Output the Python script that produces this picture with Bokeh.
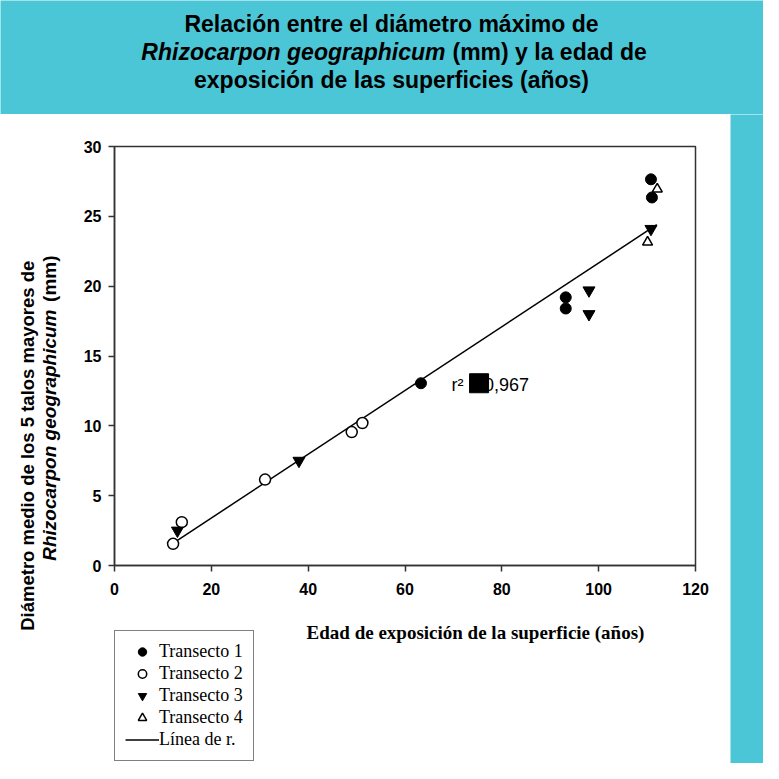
import math
from bokeh.plotting import figure
from bokeh.models import Range1d, Legend, LegendItem, FixedTicker
from bokeh.layouts import column, row
from bokeh.embed import file_html
from bokeh.resources import INLINE
from bokeh.core.properties import value

CYAN = "#4BC6D6"
INK = "#000000"
AXIS = "#333333"
NAN = float("nan")

# ---------------- data ----------------
t1_x = [63.3, 93.2, 93.2, 110.8, 111.0]
t1_y = [13.05, 19.2, 18.4, 27.65, 26.35]

t2_x = [12.1, 13.9, 31.1, 49.0, 51.2]
t2_y = [1.55, 3.1, 6.15, 9.55, 10.2]

t3_x = [13.0, 38.1, 98.0, 98.0, 110.8]
t3_y = [2.5, 7.5, 19.7, 18.0, 24.1]

t4_x = [110.1, 112.1]
t4_y = [23.15, 26.95]

fit_x = [13.0, 112.0]
fit_y = [1.8, 24.4]

r2_x = [75.3]
r2_y = [13.05]
r2_text = ["r\u00b2 = 0,967"]

x_ticks = [0, 20, 40, 60, 80, 100, 120]
y_ticks = [0, 5, 10, 15, 20, 25, 30]

title_line1 = "Relación entre el diámetro máximo de"
title_line2a = "Rhizocarpon geographicum"
title_line2b = "(mm) y la edad de"
title_line3 = "exposición de las superficies (años)"

x_label = "Edad de exposición de la superficie (años)"
y_label1 = "Diámetro  medio de los 5 talos mayores de"
y_label2a = "Rhizocarpon geographicum"
y_label2b = "(mm)"

legend_labels = ["Transecto 1", "Transecto 2", "Transecto 3", "Transecto 4", "Línea de r."]


def no_align(fig):
    try:
        fig.frame_align = False
    except Exception:
        pass


def blank_fig(w, h, xr, yr, bg):
    f = figure(width=w, height=h, x_range=xr, y_range=yr, output_backend="svg",
               toolbar_location=None, tools="", min_border=0,
               x_axis_location=None, y_axis_location=None)
    f.outline_line_color = None
    f.background_fill_color = bg
    f.border_fill_color = bg
    f.grid.visible = False
    f.title.visible = False
    no_align(f)
    return f


# ---------------- title panel (763 x 114) ----------------
tf = blank_fig(763, 114, Range1d(0, 763), Range1d(114, 0), CYAN)
tkw = dict(text_font=value("Liberation Sans"), text_font_size="23px",
           text_color=INK, text_baseline="alphabetic")
tf.text(x=[391], y=[23], text=[title_line1], text_align="center", text_font_style="bold", **tkw)
tf.text(x=[445], y=[51], text=[title_line2a], text_align="right", text_font_style="bold italic", **tkw)
tf.text(x=[452], y=[51], text=[title_line2b], text_align="left", text_font_style="bold", **tkw)
tf.text(x=[391], y=[79], text=[title_line3], text_align="center", text_font_style="bold", **tkw)

# ---------------- y-axis title strip (67 x 649) ----------------
yl = blank_fig(67, 649, Range1d(0, 67), Range1d(0, 649), "white")
ykw = dict(angle=math.pi / 2, text_align="right", text_baseline="middle",
           text_font=value("Liberation Sans"), text_color=INK)
yl.text(x=[27], y=[508], text=[y_label1], text_font_style="bold", text_font_size="18.5px", **ykw)
yl.text(x=[49], y=[508], text=[y_label2b], text_font_style="bold", text_font_size="19px", **ykw)
yl.text(x=[49], y=[454], text=[y_label2a], text_font_style="bold italic", text_font_size="19px", **ykw)

# ---------------- main plot (663 x 493) ----------------
p = figure(width=663, height=493, x_range=Range1d(0, 120), y_range=Range1d(0, 30),
           output_backend="svg", toolbar_location=None, tools="",
           min_border_left=47, min_border_right=35, min_border_top=32, min_border_bottom=42)
no_align(p)
p.title.visible = False
p.background_fill_color = "white"
p.border_fill_color = "white"
p.grid.visible = False
p.outline_line_color = AXIS
p.outline_line_width = 1.5

for ax in (p.xaxis, p.yaxis):
    ax.axis_line_color = AXIS
    ax.axis_line_width = 1.5
    ax.major_tick_line_color = AXIS
    ax.major_tick_line_width = 1.5
    ax.major_tick_in = 0
    ax.major_tick_out = 6
    ax.minor_tick_line_color = None
    ax.major_label_text_font = "Liberation Sans"
    ax.major_label_text_font_style = "bold"
    ax.major_label_text_font_size = "16px"
    ax.major_label_text_color = INK
p.xaxis.ticker = FixedTicker(ticks=x_ticks)
p.yaxis.ticker = FixedTicker(ticks=y_ticks)
p.xaxis.major_label_standoff = 11
p.yaxis.major_label_standoff = 7

mk1 = dict(marker="circle", size=11, fill_color=INK, line_color=INK)
mk2 = dict(marker="circle", size=11, fill_color="white", line_color=INK, line_width=1.5)
mk3 = dict(marker="inverted_triangle", size=12, fill_color=INK, line_color=INK)
mk4 = dict(marker="triangle", size=10, fill_color="white", line_color=INK, line_width=1.5)
lnk = dict(line_color=INK, line_width=1.5)

p.line(fit_x, fit_y, **lnk)
p.scatter(t1_x, t1_y, **mk1)
p.scatter(t2_x, t2_y, **mk2)
p.scatter(t3_x, t3_y, **mk3)
p.scatter(t4_x, t4_y, **mk4)

p.text(x=[69.6], y=[12.9], text=r2_text, text_font=value("Liberation Sans"), text_font_size="18px",
       text_color=INK, text_align="left", text_baseline="middle")
p.scatter(r2_x, r2_y, marker="square", size=19, fill_color=INK, line_color=INK)

# ---------------- bottom strip: x title + legend (663 x 156) ----------------
bot = blank_fig(663, 156, Range1d(0, 663), Range1d(0, 156), "white")
bot.text(x=[408], y=[131], text=[x_label], text_align="center", text_baseline="middle",
         text_font=value("Liberation Serif"), text_font_style="bold", text_font_size="19px",
         text_color=INK)
# legend proxies (NaN positions: nothing is drawn in the strip itself)
e1 = bot.scatter(x=[NAN], y=[NAN], **mk1)
e2 = bot.scatter(x=[NAN], y=[NAN], **mk2)
e3 = bot.scatter(x=[NAN], y=[NAN], **mk3)
e4 = bot.scatter(x=[NAN], y=[NAN], **mk4)
e5 = bot.line(x=[NAN, NAN], y=[NAN, NAN], **lnk)

legend = Legend(items=[LegendItem(label=legend_labels[0], renderers=[e1]),
                       LegendItem(label=legend_labels[1], renderers=[e2]),
                       LegendItem(label=legend_labels[2], renderers=[e3]),
                       LegendItem(label=legend_labels[3], renderers=[e4]),
                       LegendItem(label=legend_labels[4], renderers=[e5])],
                location=(47, 2))
legend.border_line_color = INK
legend.border_line_width = 1.5
legend.background_fill_color = "white"
legend.background_fill_alpha = 1.0
legend.label_text_font = "Liberation Serif"
legend.label_text_font_size = "18px"
legend.label_text_color = INK
legend.padding = 10
legend.spacing = 1
legend.glyph_width = 34
legend.glyph_height = 21
legend.label_height = 21
legend.label_standoff = 0
legend.margin = 0
bot.add_layout(legend)

# ---------------- right cyan strip (33 x 649) ----------------
sp = blank_fig(33, 649, Range1d(0, 1), Range1d(0, 1), CYAN)

layout = column(tf, row(yl, column(p, bot), sp))
open("out.html", "w").write(file_html(layout, INLINE))
